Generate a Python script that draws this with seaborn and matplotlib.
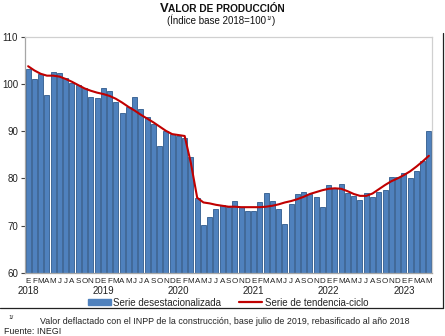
import matplotlib
matplotlib.use("Agg")
import matplotlib.pyplot as plt
import seaborn as sns
import pandas as pd
import numpy as np
from matplotlib.patches import Patch
from matplotlib.lines import Line2D

sns.set_theme(style="white")
plt.rcParams['font.family'] = ['Liberation Sans', 'DejaVu Sans']

years = ["2018", "2019", "2020", "2021", "2022", "2023"]
month_letters = ["E", "F", "M", "A", "M", "J", "J", "A", "S", "O", "N", "D"]

desest = [
    103.2, 101.1, 102.1, 97.6, 102.6, 102.3, 101.3, 100.3, 99.9, 99.1, 97.2, 97.1,
    99.2, 98.6, 96.3, 93.8, 95.1, 97.2, 94.8, 93.1, 91.5, 86.9, 90.0, 89.5,
    88.9, 88.6, 84.6, 75.8, 70.1, 71.9, 73.5, 74.3, 74.0, 75.2, 73.9, 73.1,
    73.0, 75.0, 76.9, 75.2, 73.5, 70.3, 74.6, 76.7, 77.1, 76.8, 76.1, 73.9,
    78.6, 77.9, 78.8, 76.9, 76.3, 75.4, 77.0, 76.1, 77.1, 77.6, 80.4, 80.4,
    81.1, 80.1, 81.6, 83.6, 90.1,
]
tendencia = [
    103.8, 102.9, 102.2, 101.8, 101.8, 101.6, 101.1, 100.5, 99.8, 99.1, 98.6, 98.2,
    97.9, 97.5, 96.9, 96.1, 95.2, 94.4, 93.5, 92.7, 91.9, 91.0, 90.1, 89.4,
    89.2, 89.0, 83.2, 75.9, 74.9, 74.7, 74.4, 74.2, 74.0, 74.0, 73.9, 73.9,
    73.9, 73.9, 74.0, 74.2, 74.5, 74.9, 75.2, 75.6, 76.1, 76.7, 77.1, 77.5,
    77.8, 77.9, 77.8, 77.3, 76.7, 76.3, 76.3, 76.8, 77.7, 78.6, 79.4, 80.0,
    80.7, 81.5, 82.5, 83.6, 84.8,
]

n = len(desest)
labels = [month_letters[i % 12] for i in range(n)]
df = pd.DataFrame({"idx": list(range(n)), "desest": desest, "tend": tendencia})

fig = plt.figure(figsize=(4.45, 3.36), dpi=100)
ax = fig.add_axes([25/445, 1-272.7/336, 407/445, (272.7-37)/336])

sns.barplot(data=df, x="idx", y="desest", color="#4f81bd", saturation=1,
            width=0.8, edgecolor="#2f5a8c", linewidth=0.6, ax=ax, zorder=2)
sns.lineplot(x=np.arange(n), y=tendencia, color="#c00000", linewidth=1.5,
             ax=ax, zorder=3)

ax.set_ylim(60, 110)
ax.set_xlim(-0.5, n - 0.5)
ax.set_yticks([60, 70, 80, 90, 100, 110])
ax.set_xticks(range(n))
ax.set_xticklabels(labels, fontsize=5.8, color="#222222")
ax.tick_params(axis="x", length=0, pad=4)
ax.tick_params(axis="y", labelsize=7, colors="#222222", length=3, width=0.8,
               direction="out", left=True, pad=2)
ax.set_xlabel("")
ax.set_ylabel("")

# year boundary ticks
ax.set_xticks([12 * k - 0.5 for k in range(1, 6)], minor=True)
ax.tick_params(axis="x", which="minor", length=3, width=0.8, color="#444444",
               direction="out")

for sp in ["left", "bottom"]:
    ax.spines[sp].set_color("#a6a6a6")
    ax.spines[sp].set_linewidth(0.9)
for sp in ["top", "right"]:
    ax.spines[sp].set_visible(True)
    ax.spines[sp].set_color("#d0d0d0")
    ax.spines[sp].set_linewidth(0.9)
ax.tick_params(axis="y", color="#444444")
ax.grid(False)

trans = ax.get_xaxis_transform()
for k, yr in enumerate(years):
    ax.text(12 * k, -0.058, yr, transform=trans, ha="center", va="top",
            fontsize=7, color="#222222")

# titles (small caps emulation)
fig.canvas.draw()
r = fig.canvas.get_renderer()

def row(pieces, center_x, base_y):
    arts = []
    for txt, fs, fw, dy in pieces:
        t = fig.text(0, (base_y - dy) / 336, txt, fontsize=fs, fontweight=fw,
                     ha="left", va="baseline", color="#111111")
        arts.append(t)
    widths = []
    for t in arts:
        widths.append(t.get_window_extent(r).width)
    total = sum(widths)
    x = center_x - total / 2
    for t, w in zip(arts, widths):
        t.set_x(x / 445)
        x += w
    return arts

row([("V", 9.4, "bold", 0), ("ALOR DE PRODUCCIÓN", 7.3, "bold", 0)],
    222.5, 336 - 12)
row([("(Índice base 2018=100", 7, "normal", 0), ("1/", 4.5, "normal", -3.5),
     (")", 7, "normal", 0)], 221, 336 - 23.5)

# legend
handles = [Patch(facecolor="#4f81bd", edgecolor="#4f81bd"),
           Line2D([0], [0], color="#c00000", linewidth=1.6)]
fig.legend(handles, ["Serie desestacionalizada", "Serie de tendencia-ciclo"],
           loc="center", bbox_to_anchor=(228/445, 1 - 302.5/336), ncol=2,
           frameon=False, fontsize=7, handlelength=2.4, handleheight=0.55,
           handletextpad=0.25, columnspacing=1.8, borderpad=0.1)

# frame lines (right and bottom)
fig.add_artist(Line2D([442.5/445, 442.5/445], [1 - 33/336, 1 - 307.7/336],
                      color="#222222", linewidth=0.9, transform=fig.transFigure))
fig.add_artist(Line2D([0, 442.5/445], [1 - 307.7/336, 1 - 307.7/336],
                      color="#222222", linewidth=0.9, transform=fig.transFigure))

# footnotes
fig.text(8/445, 1 - 319/336, "1/", fontsize=4.5, ha="left", va="baseline",
         color="#222222")
fig.text(40/445, 1 - 324/336,
         "Valor deflactado con el INPP de la construcción, base julio de 2019, rebasificado al año 2018",
         fontsize=6.4, ha="left", va="baseline", color="#222222")
fig.text(4/445, 1 - 334/336, "Fuente: INEGI", fontsize=6.4, ha="left",
         va="baseline", color="#222222")

fig.savefig("out.png", dpi=100)
